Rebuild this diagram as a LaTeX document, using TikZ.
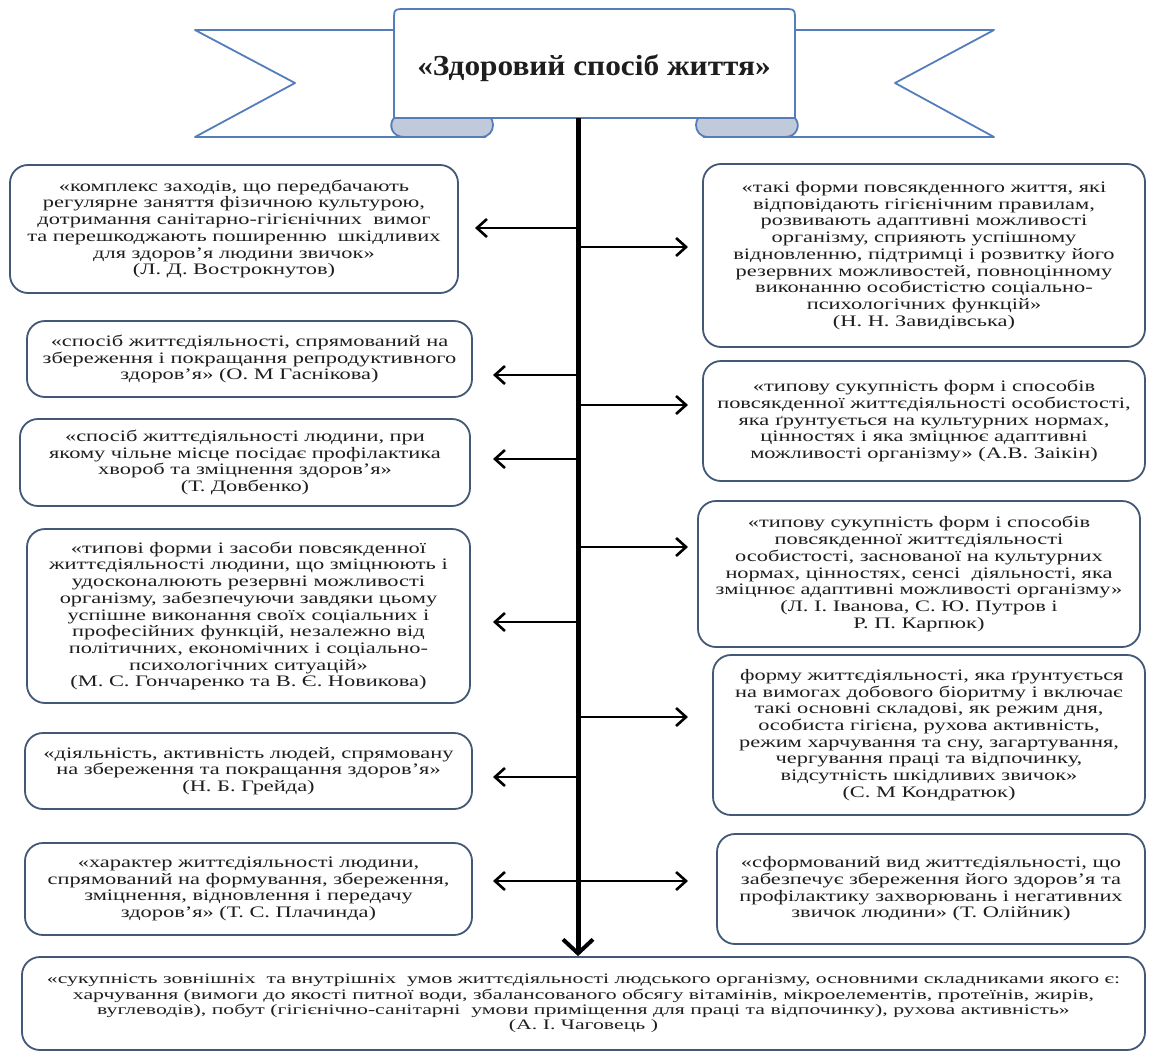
\documentclass[tikz,border=0pt]{standalone}
\usepackage{fontspec}
\setmainfont{Liberation Serif}
\newfontfamily\boxfont{Liberation Serif}[FakeStretch=1.4]
\newfontfamily\wideboxfont{Liberation Serif}[FakeStretch=1.5]
\newfontfamily\titlefont{Liberation Serif}[FakeStretch=1.08]
\usetikzlibrary{arrows.meta}
\definecolor{ribbonblue}{RGB}{84,126,186}
\definecolor{boxline}{RGB}{66,88,118}
\definecolor{foldfill}{RGB}{192,202,218}
\definecolor{txt}{RGB}{30,30,30}
\begin{document}
\begin{tikzpicture}[x=1pt,y=-1pt,
  defbox/.style={draw=boxline, line width=1.8pt, rounded corners=18pt, fill=white,
    align=center, inner sep=0pt, text=txt,
    font=\boxfont\fontsize{16}{16.7}\selectfont},
  bigbox/.style={defbox, font=\wideboxfont\fontsize{14.5}{15.3}\selectfont},
  ribbon/.style={draw=ribbonblue, line width=1.8pt, fill=white, line join=round},
  fold/.style={draw=ribbonblue, line width=1.8pt, fill=foldfill},
  arr/.style={line width=2.6pt, -{Straight Barb[length=10pt,width=18pt,line width=2.6pt]}},
  spinearr/.style={line width=5pt, -{Straight Barb[length=14pt,width=30pt,line width=4pt]}}]
\useasboundingbox (0,0) rectangle (1155,1057);
\fill[white] (0,0) rectangle (1155,1057);

% ---- ribbon ----
\draw[ribbon] (400,30) -- (195,30) -- (295,83) -- (195,137) -- (486,137);
\draw[ribbon] (790,30) -- (994,30) -- (895,83) -- (994,137) -- (703,137);
\filldraw[fold] (396,113) -- (481,113) .. controls (497,113) and (497,137) .. (481,137) -- (404,137) .. controls (392,137) and (388,125) .. (394,118);
\filldraw[fold] (793,113) -- (708,113) .. controls (692,113) and (692,137) .. (708,137) -- (785,137) .. controls (797,137) and (801,125) .. (795,118);
\filldraw[ribbon] (394,118) -- (394,21) .. controls (394,9) .. (406,9) -- (783,9) .. controls (795,9) .. (795,21) -- (795,118) -- cycle;
\node[font=\titlefont\bfseries\fontsize{29}{31}\selectfont, text=txt] (title) at (594,68) {«Здоровий спосіб життя»};

% ---- left boxes ----
\node[defbox, minimum width=448pt, minimum height=128pt] (L1) at (234,229) {«комплекс заходів, що передбачають\\регулярне заняття фізичною культурою,\\дотримання санітарно-гігієнічних\ \ вимог\\та перешкоджають поширенню\ \ шкідливих\\для здоров’я людини звичок»\\(Л. Д. Вострокнутов)};
\node[defbox, minimum width=445pt, minimum height=76pt] (L2) at (249.5,359) {«спосіб життєдіяльності, спрямований на\\збереження і покращання репродуктивного\\здоров’я» (О. М Гаснікова)};
\node[defbox, minimum width=450pt, minimum height=87pt] (L3) at (245,462.5) {«спосіб життєдіяльності людини, при\\якому чільне місце посідає профілактика\\хвороб та зміцнення здоров’я»\\(Т. Довбенко)};
\node[defbox, minimum width=443pt, minimum height=174pt] (L4) at (248.5,616) {«типові форми і засоби повсякденної\\життєдіяльності людини, що зміцнюють і\\удосконалюють резервні можливості\\організму, забезпечуючи завдяки цьому\\успішне виконання своїх соціальних і\\професійних функцій, незалежно від\\політичних, економічних і соціально-\\психологічних ситуацій»\\(М. С. Гончаренко та В. Є. Новикова)};
\node[defbox, minimum width=447pt, minimum height=76pt] (L5) at (248.5,771) {«діяльність, активність людей, спрямовану\\на збереження та покращання здоров’я»\\(Н. Б. Грейда)};
\node[defbox, minimum width=447pt, minimum height=92pt] (L6) at (248.5,889) {«характер життєдіяльності людини,\\спрямований на формування, збереження,\\зміцнення, відновлення і передачу\\здоров’я» (Т. С. Плачинда)};

% ---- right boxes ----
\node[defbox, minimum width=442pt, minimum height=183pt] (R1) at (924,255.5) {«такі форми повсякденного життя, які\\відповідають гігієнічним правилам,\\розвивають адаптивні можливості\\організму, сприяють успішному\\відновленню, підтримці і розвитку його\\резервних можливостей, повноцінному\\виконанню особистістю соціально-\\психологічних функцій»\\(Н. Н. Завидівська)};
\node[defbox, minimum width=442pt, minimum height=120pt] (R2) at (924,421) {«типову сукупність форм і способів\\повсякденної життєдіяльності особистості,\\яка ґрунтується на культурних нормах,\\цінностях і яка зміцнює адаптивні\\можливості організму» (А.В. Заікін)};
\node[defbox, minimum width=442pt, minimum height=146pt] (R3) at (919,574) {«типову сукупність форм і способів\\повсякденної життєдіяльності\\особистості, заснованої на культурних\\нормах, цінностях, сенсі\ \ діяльності, яка\\зміцнює адаптивні можливості організму»\\(Л. І. Іванова, С. Ю. Путров і\\Р. П. Карпюк)};
\node[defbox, minimum width=432pt, minimum height=160pt] (R4) at (929,735) {\ форму життєдіяльності, яка ґрунтується\\на вимогах добового біоритму і включає\\такі основні складові, як режим дня,\\особиста гігієна, рухова активність,\\режим харчування та сну, загартування,\\чергування праці та відпочинку,\\відсутність шкідливих звичок»\\(С. М Кондратюк)};
\node[defbox, minimum width=428pt, minimum height=110pt] (R5) at (931,889) {«сформований вид життєдіяльності, що\\забезпечує збереження його здоров’я та\\профілактику захворювань і негативних\\звичок людини» (Т. Олійник)};

% ---- bottom box ----
\node[bigbox, minimum width=1123pt, minimum height=93pt] (B) at (583.5,1003.5) {«сукупність зовнішніх\ \ та внутрішніх\ \ умов життєдіяльності людського організму, основними складниками якого є:\\харчування (вимоги до якості питної води, збалансованого обсягу вітамінів, мікроелементів, протеїнів, жирів,\\вуглеводів), побут (гігієнічно-санітарні\ \ умови приміщення для праці та відпочинку), рухова активність»\\(А. І. Чаговець )};

% ---- spine ----
\coordinate (spinetop) at (578,118);
\draw[spinearr] (spinetop) -- (spinetop |- B.north);

% ---- branch arrows ----
\foreach \n/\y/\tx in {L1/228/475, L2/375/493, L3/459/493, L4/622/493, L5/777/493, L6/881/493}{
  \coordinate (s\n) at (580,\y);
  \coordinate (t\n) at (\tx,\y);
  \draw[arr] (s\n) -- (t\n);
}
\foreach \n/\y in {R1/247, R2/405, R3/547, R4/717, R5/881}{
  \coordinate (s\n) at (576,\y);
  \coordinate (t\n) at (688,\y);
  \draw[arr] (s\n) -- (t\n);
}
\end{tikzpicture}
\end{document}
